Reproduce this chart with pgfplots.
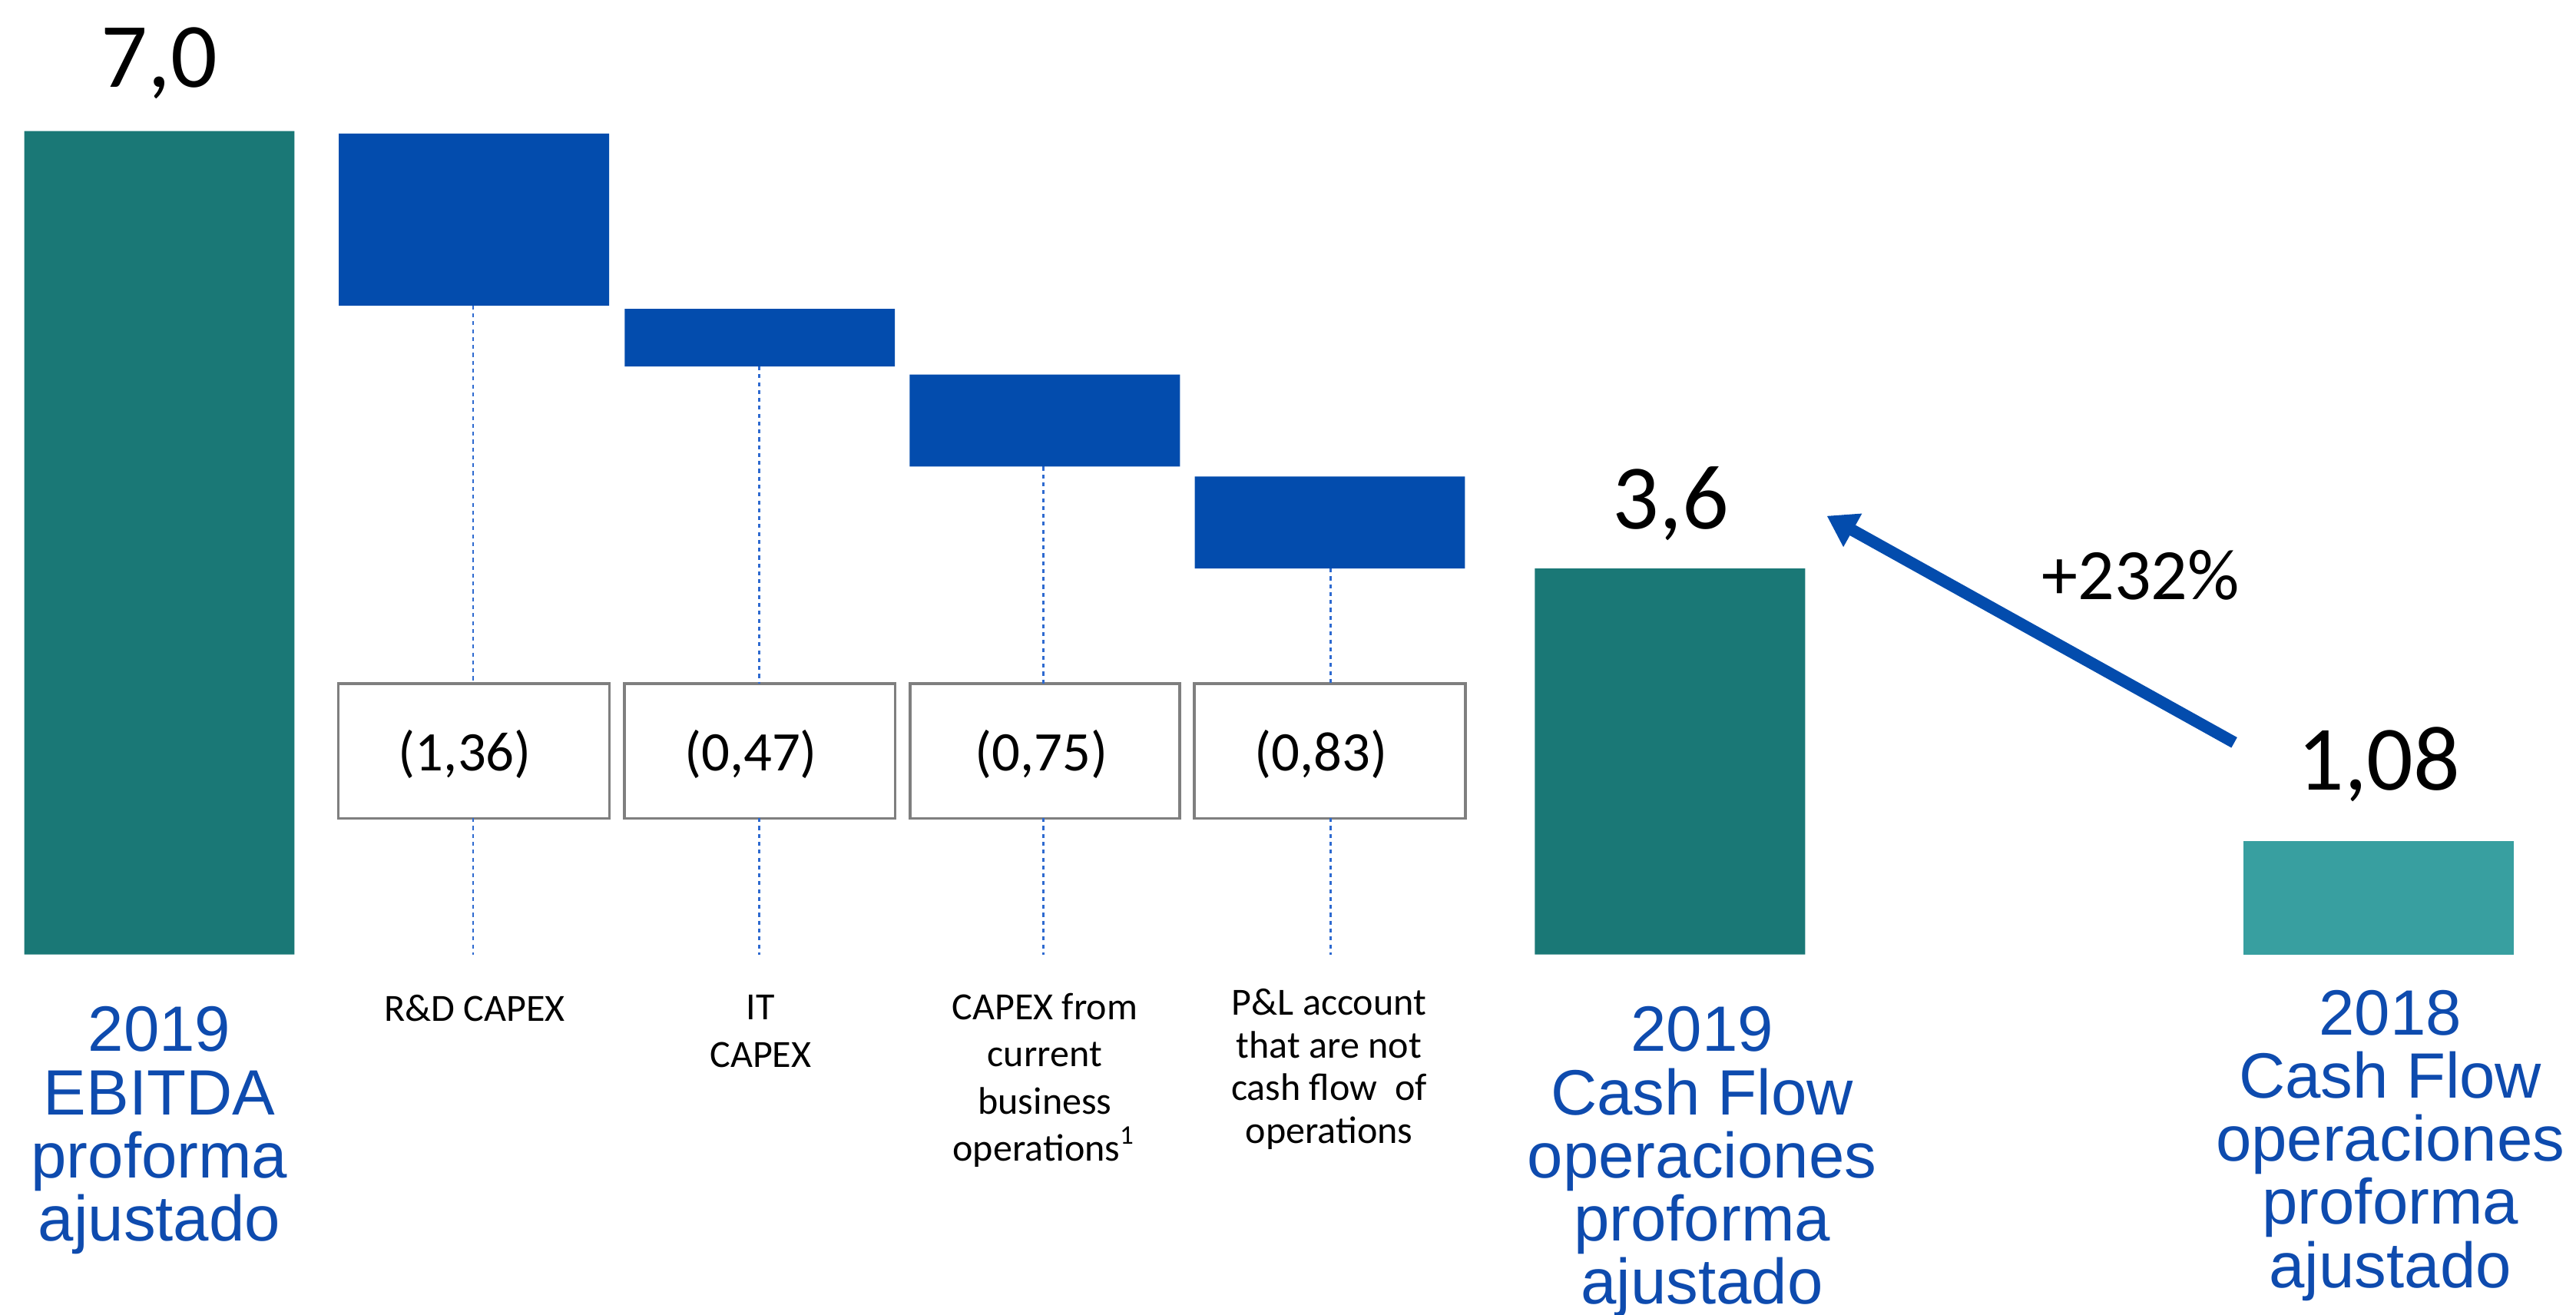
\documentclass[border=0pt]{standalone}
\usepackage{pgfplots}
\pgfplotsset{compat=1.18}
\usepackage{pgfplotstable}
\usetikzlibrary{arrows.meta}
\usepackage{fontspec}
\setmainfont{Carlito}
\newfontfamily\arialfont{Liberation Sans}
\definecolor{tealdark}{HTML}{1A7876}
\definecolor{teallight}{HTML}{389FA0}
\definecolor{barblue}{HTML}{034CAD}
\definecolor{txtblue}{HTML}{0E4BAE}
\definecolor{dotblue}{HTML}{2E6AD0}
\definecolor{boxgray}{HTML}{7F7F7F}

% x = bar centre, base = invisible offset of floating bars
\pgfplotstableread{
x      base   blue   dark   light
97     0      0      7.0    0
288.5  5.517  1.463  0      0
462.5  5.0    0.489  0      0
636    4.148  0.782  0      0
809.5  3.282  0.782  0      0
1016.5 0      0      3.282  0
1448   0      0      0      0.964
}\bars

\begin{document}
\begin{tikzpicture}
\begin{axis}[
  scale only axis, width=392pt, height=200pt,
  xmin=0, xmax=1568, ymin=-3.059, ymax=8.115,
  hide axis, clip=false,
  ybar stacked, bar width=164.5,
]
\addplot[draw=none, fill=none] table[x=x,y=base]{\bars};
\addplot[draw=none, fill=barblue] table[x=x,y=blue]{\bars};
\addplot[draw=none, fill=tealdark] table[x=x,y=dark]{\bars};
\addplot[draw=none, fill=teallight] table[x=x,y=light]{\bars};

% connector dotted lines
\draw[dotblue, line width=0.3pt, dash pattern=on 0.6pt off 0.6pt] (axis cs:288,5.517) -- (axis cs:288,2.304);
\draw[dotblue, line width=0.3pt, dash pattern=on 0.6pt off 0.6pt] (axis cs:288,1.159) -- (axis cs:288,0);
\draw[dotblue, line width=0.3pt, dash pattern=on 0.6pt off 0.6pt] (axis cs:462,5.0) -- (axis cs:462,2.304);
\draw[dotblue, line width=0.3pt, dash pattern=on 0.6pt off 0.6pt] (axis cs:462,1.159) -- (axis cs:462,0);
\draw[dotblue, line width=0.3pt, dash pattern=on 0.6pt off 0.6pt] (axis cs:635,4.148) -- (axis cs:635,2.304);
\draw[dotblue, line width=0.3pt, dash pattern=on 0.6pt off 0.6pt] (axis cs:635,1.159) -- (axis cs:635,0);
\draw[dotblue, line width=0.3pt, dash pattern=on 0.6pt off 0.6pt] (axis cs:810,3.282) -- (axis cs:810,2.304);
\draw[dotblue, line width=0.3pt, dash pattern=on 0.6pt off 0.6pt] (axis cs:810,1.159) -- (axis cs:810,0);

% value boxes
\draw[boxgray, line width=0.4pt] (axis cs:206,1.159) rectangle (axis cs:371,2.304);
\draw[boxgray, line width=0.4pt] (axis cs:380,1.159) rectangle (axis cs:545,2.304);
\draw[boxgray, line width=0.4pt] (axis cs:554,1.159) rectangle (axis cs:718,2.304);
\draw[boxgray, line width=0.4pt] (axis cs:727,1.159) rectangle (axis cs:892,2.304);

\node[anchor=base, inner sep=0, font=\fontsize{8.5}{10}\selectfont] at (axis cs:283,1.564) {(1,36)};
\node[anchor=base, inner sep=0, font=\fontsize{8.5}{10}\selectfont] at (axis cs:457,1.564) {(0,47)};
\node[anchor=base, inner sep=0, font=\fontsize{8.5}{10}\selectfont] at (axis cs:634,1.564) {(0,75)};
\node[anchor=base, inner sep=0, font=\fontsize{8.5}{10}\selectfont] at (axis cs:804,1.564) {(0,83)};

% big values
\node[anchor=base, inner sep=0, font=\fontsize{14}{16}\selectfont] at (axis cs:97,7.374) {7,0};
\node[anchor=base, inner sep=0, font=\fontsize{14}{16}\selectfont] at (axis cs:1017,3.617) {3,6};
\node[anchor=base, inner sep=0, font=\fontsize{14}{16}\selectfont] at (axis cs:1448,1.397) {1,08};
\node[anchor=base, inner sep=0, font=\fontsize{11}{13}\selectfont] at (axis cs:1303,3.017) {+232\%};

% arrow
\draw[barblue, line width=1.8pt, -{Triangle[length=4.5pt,width=5.5pt]}] (axis cs:1360,1.802) -- (axis cs:1112,3.729);

% category labels
\node[anchor=north, inner sep=0, align=center, font=\fontsize{5.85}{7.15}\selectfont] at (axis cs:289,-0.335) {R\&D CAPEX};
\node[anchor=north, inner sep=0, align=center, font=\fontsize{5.85}{7.15}\selectfont] at (axis cs:463,-0.335) {IT\\CAPEX};
\node[anchor=north, inner sep=0, align=center, font=\fontsize{5.85}{7.15}\selectfont] at (axis cs:636,-0.32) {CAPEX from\\current\\business\\operations\textsuperscript{1}};
\node[anchor=north, inner sep=0, align=center, font=\fontsize{5.85}{6.5}\selectfont] at (axis cs:809,-0.28) {P\&L account\\that are not\\cash flow\ \ of\\operations};

% blue labels
\node[anchor=north, inner sep=0, align=center, text=txtblue, font=\arialfont\fontsize{9.75}{9.6}\selectfont] at (axis cs:97,-0.433) {2019\\EBITDA\\proforma\\ajustado};
\node[anchor=north, inner sep=0, align=center, text=txtblue, font=\arialfont\fontsize{9.75}{9.6}\selectfont] at (axis cs:1036,-0.433) {2019\\Cash Flow\\operaciones\\proforma\\ajustado};
\node[anchor=north, inner sep=0, align=center, text=txtblue, font=\arialfont\fontsize{9.75}{9.6}\selectfont] at (axis cs:1455,-0.293) {2018\\Cash Flow\\operaciones\\proforma\\ajustado};
\end{axis}
\pgfresetboundingbox
\useasboundingbox (current axis.south west) rectangle (current axis.north east);
\end{tikzpicture}
\end{document}
